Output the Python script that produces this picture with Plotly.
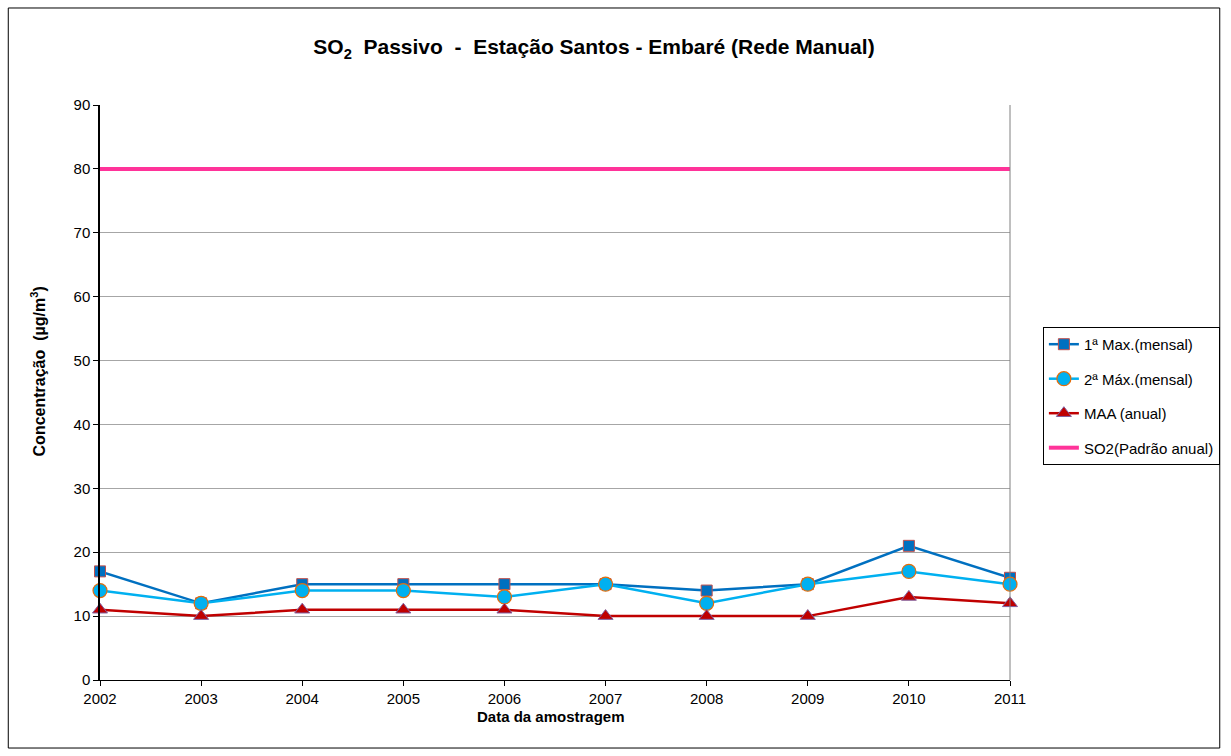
import plotly.graph_objects as go

years = [2002, 2003, 2004, 2005, 2006, 2007, 2008, 2009, 2010, 2011]
max1_mensal = [17, 12, 15, 15, 15, 15, 14, 15, 21, 16]
max2_mensal = [14, 12, 14, 14, 13, 15, 12, 15, 17, 15]
maa_anual = [11, 10, 11, 11, 11, 10, 10, 10, 13, 12]
padrao_anual = [80] * len(years)

y_ticks = [0, 10, 20, 30, 40, 50, 60, 70, 80, 90]

FONT = "Liberation Sans, Arial, sans-serif"

fig = go.Figure()

fig.add_trace(go.Scatter(
    x=years, y=max1_mensal, name="1ª Max.(mensal)", mode="lines+markers",
    line=dict(color="#0070C0", width=2.5),
    marker=dict(symbol="square", size=11, color="#0070C0",
                line=dict(color="#C0504D", width=1)),
    legendgroup="a", cliponaxis=False,
))
fig.add_trace(go.Scatter(
    x=years, y=max2_mensal, name="2ª Máx.(mensal)", mode="lines+markers",
    line=dict(color="#00B0F0", width=2.5),
    marker=dict(symbol="circle", size=14, color="#00B0F0",
                line=dict(color="#E46C0A", width=1.2)),
    legendgroup="b", cliponaxis=False,
))
fig.add_trace(go.Scatter(
    x=years, y=maa_anual, name="MAA (anual)", mode="lines+markers",
    line=dict(color="#C00000", width=2.5),
    marker=dict(symbol="triangle-up", size=13, color="#C00000",
                line=dict(color="#7F5F9F", width=1)),
    legendgroup="c", cliponaxis=False,
))
fig.add_trace(go.Scatter(
    x=years, y=padrao_anual, name="SO2(Padrão anual)", mode="lines",
    line=dict(color="#FF3399", width=4),
    legendgroup="d", cliponaxis=False,
))

fig.update_layout(
    width=1231, height=756,
    margin=dict(l=100, r=220, t=105, b=76),
    paper_bgcolor="white", plot_bgcolor="white",
    font=dict(family=FONT, size=15, color="black"),
    title=dict(
        text="<b>SO<sub>2</sub>  Passivo  -  Estação Santos - Embaré (Rede Manual)</b>",
        x=0.4825, xref="container", xanchor="center",
        y=0.938, yref="container", yanchor="middle",
        font=dict(family=FONT, size=21, color="black"),
    ),
    xaxis=dict(
        range=[2002, 2011], tickmode="array", tickvals=years,
        ticks="outside", ticklen=5, tickcolor="black",
        showline=True, linecolor="black", linewidth=1, mirror=False,
        showgrid=False, zeroline=False, ticklabelstandoff=0,
        tickfont=dict(size=15),
    ),
    yaxis=dict(
        range=[0, 90], tickmode="array", tickvals=y_ticks,
        ticks="outside", ticklen=5, tickcolor="black",
        showline=True, linecolor="black", linewidth=1.5,
        showgrid=True, gridcolor="#A6A6A6", gridwidth=1, zeroline=False,
        tickfont=dict(size=15),
    ),
    annotations=[
        dict(text="<b>Concentração  (µg/m<sup>3</sup>)</b>", textangle=-90,
             xref="paper", yref="paper", x=-0.0679, y=0.537,
             xanchor="center", yanchor="middle", showarrow=False,
             font=dict(family=FONT, size=16, color="black")),
        dict(text="<b>Data da amostragem</b>",
             xref="paper", yref="paper", x=0.4956, y=-0.064,
             xanchor="center", yanchor="middle", showarrow=False,
             font=dict(family=FONT, size=15, color="black")),
    ],
    legend=dict(
        x=1.035, y=0.614, xanchor="left", yanchor="top",
        bordercolor="black", borderwidth=1, bgcolor="white",
        font=dict(size=15), traceorder="grouped", tracegroupgap=12,
        itemwidth=30,
    ),
    showlegend=True,
    shapes=[
        # right border of the plotting area
        dict(type="line", xref="paper", yref="paper", x0=1, x1=1, y0=0, y1=1,
             line=dict(color="#808080", width=1)),
        # outer chart frame
        dict(type="rect", xref="paper", yref="paper",
             x0=-0.1008, x1=1.2305, y0=-0.1183, y1=1.1687,
             line=dict(color="black", width=1)),
    ],
)

fig.write_html("out.html")
